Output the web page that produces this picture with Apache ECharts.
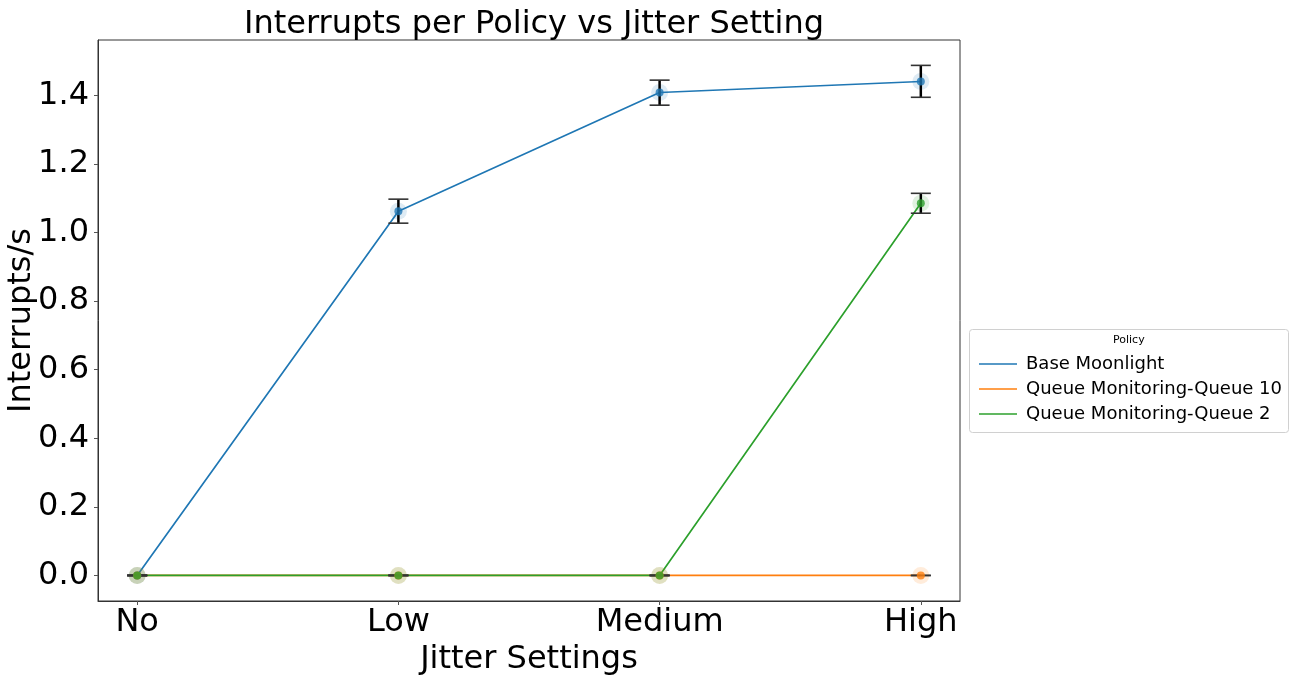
<!DOCTYPE html>
<html>
<head>
<meta charset="utf-8">
<script src="https://cdn.jsdelivr.net/npm/echarts@6/dist/echarts.min.js"></script>
<style>
  html, body { margin: 0; padding: 0; background: #fff; }
  #chart { width: 1293px; height: 675px; }
</style>
</head>
<body>
<div id="chart"></div>
<script>
// Jitter levels on the x axis
const categories = ['No', 'Low', 'Medium', 'High'];
const yTicks = [0, 0.2, 0.4, 0.6, 0.8, 1.0, 1.2, 1.4];

// Mean interrupts per second for each policy
const baseMoonlight = [0, 1.062, 1.408, 1.440];
const queue10 = [0, 0, 0, 0];
const queue2 = [0, 0, 0, 1.085];

// Error bar bounds [low, high]
const baseMoonlightErr = [[0, 0], [1.027, 1.097], [1.371, 1.444], [1.394, 1.487]];
const queue10Err = [[0, 0], [0, 0], [0, 0], [0, 0]];
const queue2Err = [[0, 0], [0, 0], [0, 0], [1.056, 1.114]];

const seriesNames = ['Base Moonlight', 'Queue Monitoring-Queue 10', 'Queue Monitoring-Queue 2'];
const colors = ['#1f77b4', '#ff7f0e', '#2ca02c'];
const values = [baseMoonlight, queue10, queue2];
const errors = [baseMoonlightErr, queue10Err, queue2Err];

const FONT = 'DejaVu Sans';
const chart = echarts.init(document.getElementById('chart'), null, { renderer: 'canvas' });

const series = [];
values.forEach((vals, s) => {
  series.push({
    name: seriesNames[s], type: 'line', data: vals.map((v, i) => [i, v]), showSymbol: false,
    lineStyle: { color: colors[s], width: 1.7 }, itemStyle: { color: colors[s] },
    z: 2, silent: true
  });
});
values.forEach((vals, s) => {
  series.push({
    name: seriesNames[s] + ' halo', type: 'scatter', data: vals.map((v, i) => [i, v]),
    symbolSize: 17, itemStyle: { color: colors[s], opacity: 0.15 }, z: 3, silent: true
  });
});
errors.forEach((errs, s) => {
  series.push({
    name: seriesNames[s] + ' err', type: 'custom', z: 4, silent: true,
    data: errs.map((e, i) => [i, e[0], e[1]]),
    renderItem: function (params, api) {
      const lo = api.coord([api.value(0), api.value(1)]);
      const hi = api.coord([api.value(0), api.value(2)]);
      const half = 10;
      return {
        type: 'group',
        children: [
          { type: 'line', shape: { x1: lo[0], y1: lo[1], x2: hi[0], y2: hi[1] },
            style: { stroke: '#000', lineWidth: 2.5 } },
          { type: 'line', shape: { x1: hi[0] - half, y1: hi[1], x2: hi[0] + half, y2: hi[1] },
            style: { stroke: '#333', lineWidth: 1.6 } },
          { type: 'line', shape: { x1: lo[0] - half, y1: lo[1], x2: lo[0] + half, y2: lo[1] },
            style: { stroke: '#333', lineWidth: 1.6 } }
        ]
      };
    }
  });
});
values.forEach((vals, s) => {
  series.push({
    name: seriesNames[s] + ' dot', type: 'scatter', data: vals.map((v, i) => [i, v]),
    symbolSize: 8, itemStyle: { color: colors[s] }, z: 5, silent: true
  });
});

chart.setOption({
  animation: false,
  backgroundColor: '#fff',
  textStyle: { fontFamily: FONT },
  title: {
    text: 'Interrupts per Policy vs Jitter Setting',
    left: 529, top: 4, textAlign: 'center',
    textStyle: { fontFamily: FONT, fontSize: 32, fontWeight: 'normal', color: '#000' }
  },
  grid: {
    left: 98, top: 40, width: 862, height: 561, show: true,
    borderColor: '#333', borderWidth: 1, containLabel: false, outerBoundsMode: 'none'
  },
  legend: {
    data: seriesNames,
    orient: 'vertical', left: 974, top: 350,
    icon: 'rect', itemWidth: 38, itemHeight: 1.5, itemGap: 7,
    textStyle: { fontFamily: FONT, fontSize: 18, color: '#000', padding: [0, 0, 0, 4] }
  },
  graphic: [
    { type: 'rect', left: 969, top: 329, z: -1,
      shape: { width: 319, height: 103, r: 3 },
      style: { fill: '#fff', stroke: '#d0d0d0', lineWidth: 1 } },
    { type: 'text', left: 1113, top: 335,
      style: { text: 'Policy', font: '11px "DejaVu Sans"', fill: '#000' } }
  ],
  xAxis: {
    type: 'value', min: -0.15, max: 3.15,
    name: 'Jitter Settings', nameLocation: 'middle', nameGap: 43, nameMoveOverlap: false,
    nameTextStyle: { fontFamily: FONT, fontSize: 32, color: '#000' },
    axisLine: { show: true, onZero: false, lineStyle: { color: '#333' } },
    axisTick: { show: true, length: 4, customValues: [0, 1, 2, 3], lineStyle: { color: '#555' } },
    axisLabel: {
      customValues: [0, 1, 2, 3], fontFamily: FONT, fontSize: 32, color: '#000', margin: 6,
      formatter: v => categories[Math.round(v)]
    },
    splitLine: { show: false }
  },
  yAxis: {
    type: 'value', min: -0.0745, max: 1.561,
    name: 'Interrupts/s', nameLocation: 'middle', nameGap: 60, nameRotate: 90, nameMoveOverlap: false,
    nameTextStyle: { fontFamily: FONT, fontSize: 32, color: '#000' },
    axisLine: { show: true, onZero: false, lineStyle: { color: '#333' } },
    axisTick: { show: true, length: 4, customValues: yTicks, lineStyle: { color: '#555' } },
    axisLabel: {
      customValues: yTicks, fontFamily: FONT, fontSize: 32, color: '#000', margin: 9,
      formatter: v => v.toFixed(1)
    },
    splitLine: { show: false }
  },
  series: series
});
</script>
</body>
</html>
